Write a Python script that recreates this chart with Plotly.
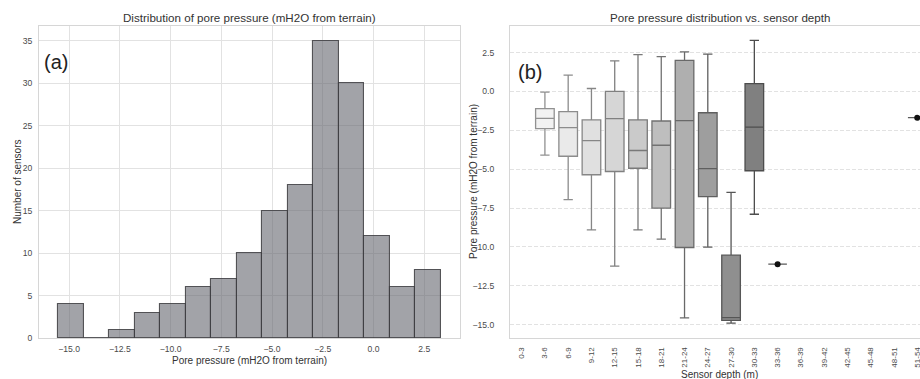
import numpy as np
import plotly.graph_objects as go
from plotly.colors import sample_colorscale, sequential

# ---------------- DATA ----------------
# (a) histogram of pore pressure
hist_counts = [4, 0, 1, 3, 4, 6, 7, 10, 15, 18, 35, 30, 12, 6, 8]
hist_min = -15.54
hist_max = 3.32

# (b) box plots by sensor depth
depth_categories = ["0-3", "3-6", "6-9", "9-12", "12-15", "15-18", "18-21", "21-24",
                    "24-27", "27-30", "30-33", "33-36", "36-39", "39-42", "42-45",
                    "45-48", "48-51", "51-54"]
box_categories = ["3-6", "6-9", "9-12", "12-15", "15-18", "18-21", "21-24", "24-27", "27-30", "30-33"]
box_lower = [-4.10, -6.96, -8.91, -11.24, -8.91, -9.50, -14.57, -10.02, -14.90, -7.90]
box_q1 = [-2.39, -4.17, -5.36, -5.15, -4.94, -7.50, -10.04, -6.77, -14.72, -5.10]
box_median = [-1.73, -2.33, -3.16, -1.75, -3.80, -3.46, -1.88, -4.96, -14.55, -2.30]
box_q3 = [-1.11, -1.30, -1.83, 0.00, -1.83, -1.90, 2.00, -1.37, -10.53, 0.50]
box_upper = [-0.05, 1.05, 0.19, 1.97, 2.37, 2.24, 2.55, 2.40, -6.49, 3.29]
single_categories = ["33-36", "51-54"]
single_values = [-11.11, -1.69]

# ---------------- FIGURE ----------------
W, H = 920, 379
ml, mr, mt, mb = 39, 0, 26, 41
pw = W - ml - mr
ph = H - mt - mb
left_dom = [0, (460 - ml) / pw]
right_dom = [(510 - ml) / pw, 1.0]

FONT = "Liberation Sans, Arial, sans-serif"
TXT = "#333333"
TICK = "#4a4a4a"
GRID = "#e2e2e2"
FRAME = "#d6d6d6"

fig = go.Figure()

# histogram bars
edges = np.linspace(hist_min, hist_max, len(hist_counts) + 1)
centers = (edges[:-1] + edges[1:]) / 2
bw = edges[1] - edges[0]
fig.add_trace(go.Bar(
    x=centers, y=hist_counts, width=bw,
    marker=dict(color="rgba(100,102,110,0.60)",
                line=dict(color="rgba(60,60,64,0.85)", width=1.1)),
    xaxis="x", yaxis="y", showlegend=False, hoverinfo="x+y"))

def cat_color(idx):
    t = (idx + 1) / (len(depth_categories) + 1)
    c = sample_colorscale(sequential.Greys, [t])[0]
    vals = [float(v) for v in c[c.index("(") + 1:c.index(")")].split(",")]
    return vals

def rgb(v):
    return "rgb(%d,%d,%d)" % tuple(int(round(x)) for x in v[:3])

for i, cat in enumerate(box_categories):
    idx = depth_categories.index(cat)
    fill = cat_color(idx)
    line = [x * 0.6 for x in fill]
    fig.add_trace(go.Box(
        x=[idx], q1=[box_q1[i]], median=[box_median[i]], q3=[box_q3[i]],
        lowerfence=[box_lower[i]], upperfence=[box_upper[i]],
        width=0.8, whiskerwidth=0.5, boxpoints=False,
        fillcolor=rgb(fill), line=dict(color=rgb(line), width=1.3),
        xaxis="x2", yaxis="y2", showlegend=False, name=cat))

for cat, v in zip(single_categories, single_values):
    idx = depth_categories.index(cat)
    fill = cat_color(idx)
    line = [x * 0.6 for x in fill]
    fig.add_trace(go.Box(
        x=[idx], y=[v], width=0.8, whiskerwidth=0.5,
        boxpoints="all", jitter=0, pointpos=0,
        marker=dict(color="#111111", size=6),
        fillcolor=rgb(fill), line=dict(color=rgb([max(x, 90) for x in line]), width=1.3),
        xaxis="x2", yaxis="y2", showlegend=False, name=cat))

tickfont = dict(family=FONT, size=8.6, color=TICK)
xcat_font = dict(family=FONT, size=8, color=TICK)
titlefont = dict(family=FONT, size=10, color=TXT)

fig.update_layout(
    width=W, height=H,
    margin=dict(l=ml, r=mr, t=mt, b=mb, autoexpand=False),
    paper_bgcolor="white", plot_bgcolor="white",
    font=dict(family=FONT, color=TXT),
    boxmode="overlay", bargap=0,
    xaxis=dict(domain=left_dom, range=[hist_min - 0.05 * (hist_max - hist_min),
                                       hist_max + 0.05 * (hist_max - hist_min)],
               tickvals=[-15, -12.5, -10, -7.5, -5, -2.5, 0, 2.5], tickformat=".1f",
               showgrid=True, gridcolor=GRID, gridwidth=1, zeroline=False,
               showline=True, linecolor=FRAME, mirror=True, automargin=False,
               ticks="outside", ticklen=3, tickcolor="rgba(0,0,0,0)",
               tickfont=tickfont),
    yaxis=dict(domain=[0, 1], anchor="x", range=[0, 36.75],
               tickvals=[0, 5, 10, 15, 20, 25, 30, 35],
               showgrid=True, gridcolor=GRID, gridwidth=1, zeroline=False,
               showline=True, linecolor=FRAME, mirror=True, automargin=False,
               ticks="outside", ticklen=4, tickcolor="rgba(0,0,0,0)",
               tickfont=tickfont),
    xaxis2=dict(domain=right_dom, anchor="y2",
                range=[-0.5, -0.5 + 410 / 23.27],
                tickvals=list(range(len(depth_categories))), ticktext=depth_categories,
                tickangle=-90, showgrid=False, zeroline=False, ticklabeloverflow="allow",
                showline=True, linecolor=FRAME, mirror=True, automargin=False,
                ticks="outside", ticklen=5, tickcolor="rgba(0,0,0,0)",
                tickfont=xcat_font),
    yaxis2=dict(domain=[0, 1], anchor="x2", range=[-15.86, 4.21],
                tickvals=[2.5, 0, -2.5, -5, -7.5, -10, -12.5, -15], tickformat=".1f",
                showgrid=True, gridcolor=GRID, gridwidth=1, griddash="4px,2px",
                zeroline=False, showline=True, linecolor=FRAME, mirror=False, automargin=False,
                ticks="outside", ticklen=13, tickcolor="rgba(0,0,0,0)",
                tickfont=tickfont),
)

ann = []
ann.append(dict(text="Distribution of pore pressure (mH2O from terrain)",
                xref="x domain", yref="y domain", x=0.5, y=1, xanchor="center", yanchor="bottom",
                showarrow=False, font=dict(family=FONT, size=11.6, color=TXT)))
ann.append(dict(text="Pore pressure distribution vs. sensor depth",
                xref="paper", yref="y2 domain", x=(719.5 - ml) / pw, y=1,
                xanchor="center", yanchor="bottom",
                showarrow=False, font=dict(family=FONT, size=11.6, color=TXT)))
ann.append(dict(text="Number of sensors", xref="paper", yref="paper",
                x=(17 - ml) / pw, y=0.5, xanchor="center", yanchor="middle", textangle=-90,
                showarrow=False, font=titlefont))
ann.append(dict(text="Pore pressure (mH2O from terrain)", xref="paper", yref="paper",
                x=(473 - ml) / pw, y=0.5, xanchor="center", yanchor="middle", textangle=-90,
                showarrow=False, font=titlefont))
ann.append(dict(text="Pore pressure (mH2O from terrain)", xref="x domain", yref="paper",
                x=0.5, y=(338 - 360) / ph, xanchor="center", yanchor="middle",
                showarrow=False, font=titlefont))
ann.append(dict(text="Sensor depth (m)", xref="paper", yref="paper",
                x=(719.5 - ml) / pw, y=(338 - 374.5) / ph, xanchor="center", yanchor="middle",
                showarrow=False, font=titlefont))
ann.append(dict(text="(a)", xref="x domain", yref="y domain", x=0.007, y=1 - (62 - 26) / 312,
                xanchor="left", yanchor="middle", showarrow=False,
                font=dict(family=FONT, size=20, color="#222222")))
ann.append(dict(text="(b)", xref="x2 domain", yref="y2 domain", x=6 / 410, y=1 - (72 - 26) / 312,
                xanchor="left", yanchor="middle", showarrow=False,
                font=dict(family=FONT, size=20, color="#222222")))
fig.update_layout(annotations=ann)

fig.write_html("out.html", config={"displayModeBar": False},
               post_script="document.body.style.margin='0';document.body.style.overflow='hidden';")
